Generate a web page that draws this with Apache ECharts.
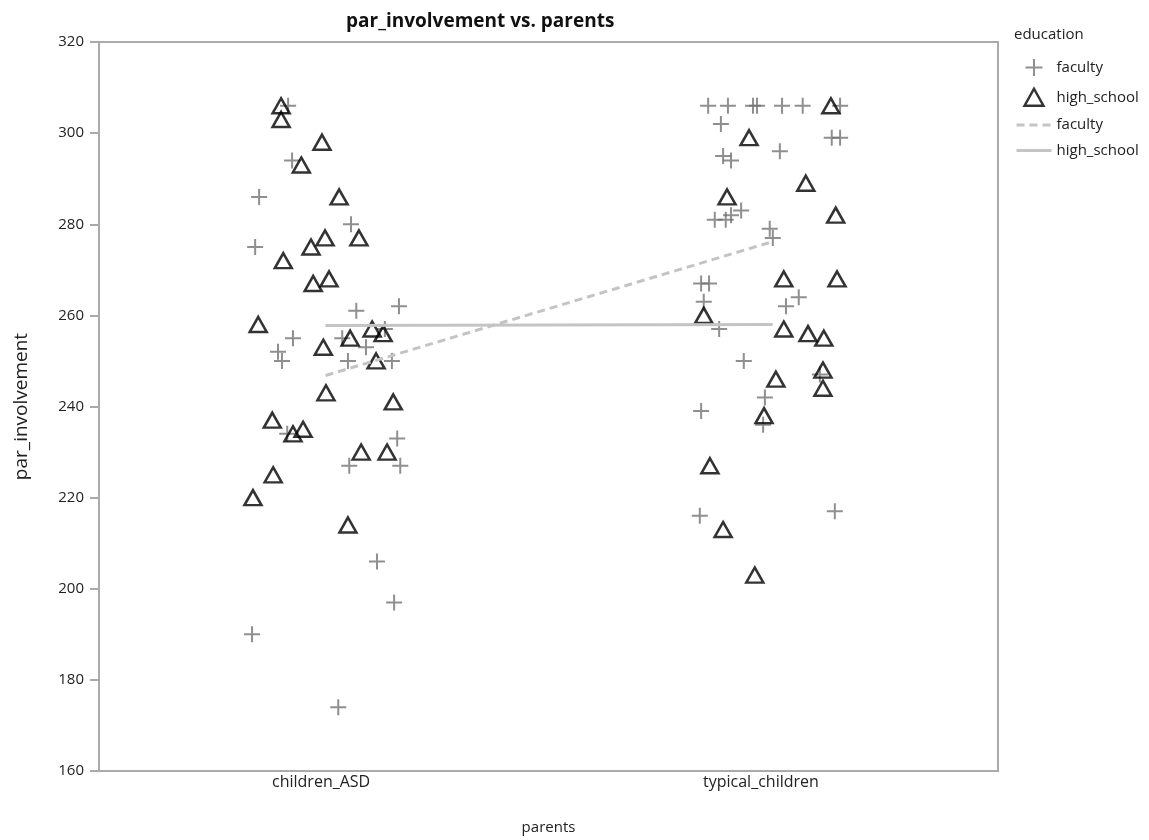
<!DOCTYPE html>
<html>
<head>
<meta charset="utf-8">
<script src="https://cdn.jsdelivr.net/npm/echarts@6/dist/echarts.min.js"></script>
<style>html,body{margin:0;padding:0;background:#fff;}#c{width:1149px;height:840px;}</style>
</head>
<body>
<div id="c"></div>
<script>
// categories on x (position 0 and 1 on a value axis, points jittered)
const categories = ['children_ASD', 'typical_children'];
const yTicks = [160, 180, 200, 220, 240, 260, 280, 300, 320];

// [jittered x position, par_involvement]
const asdFaculty = [
  [-0.075,306],[-0.066,294],[-0.141,286],[0.068,280],[-0.150,275],[0.080,261],[0.177,262],
  [-0.064,255],[-0.098,252],[-0.089,250],[0.048,255],[0.145,257],[0.102,253],[0.061,250],
  [0.161,250],[-0.077,234],[0.173,233],[0.064,227],[0.180,227],[0.127,206],[0.166,197],
  [-0.157,190],[0.039,174]
];
const asdHighSchool = [
  [-0.091,306],[-0.091,303],[0.002,298],[-0.045,293],[0.041,286],[0.086,277],[0.009,277],
  [-0.023,275],[-0.086,272],[-0.018,267],[0.018,268],[-0.143,258],[0.005,253],[0.066,255],
  [0.116,257],[0.141,256],[0.125,250],[0.011,243],[0.164,241],[-0.111,237],[-0.064,234],
  [-0.041,235],[0.091,230],[0.150,230],[-0.109,225],[-0.155,220],[0.061,214]
];
const typFaculty = [
  [0.880,306],[0.925,306],[0.982,306],[0.991,306],[1.048,306],[1.095,306],[1.180,306],
  [0.909,302],[1.161,299],[1.180,299],[1.043,296],[0.914,295],[0.932,294],[0.895,281],
  [0.920,281],[0.932,282],[0.955,283],[1.020,279],[1.027,277],[0.864,267],[0.882,267],
  [0.870,263],[0.905,257],[1.086,264],[1.057,262],[1.134,247],[0.961,250],[1.009,242],
  [1.005,236],[0.864,239],[0.861,216],[1.168,217]
];
const typHighSchool = [
  [1.159,306],[0.973,299],[1.102,289],[0.923,286],[1.170,282],[0.870,260],[1.052,268],
  [1.173,268],[1.052,257],[1.107,256],[1.143,255],[1.141,248],[1.141,244],[1.034,246],
  [1.007,238],[0.884,227],[0.914,213],[0.986,203]
];
// fitted lines
const facultyLine = [[0.01,246.8],[1.027,276.2]];
const highSchoolLine = [[0.01,257.8],[1.027,258.0]];

const FONT = 'Open Sans';
const plusPath = 'path://M5,0 L5,10 M0,5 L10,5';
const triPath = 'path://M5,0 L10,9 L0,9 Z';

const chart = echarts.init(document.getElementById('c'));
chart.setOption({
  animation: false,
  textStyle: {fontFamily: FONT},
  title: [
    {text: 'par_involvement vs. parents', left: 341, top: 7,
     textStyle: {fontFamily: FONT, fontSize: 19, fontWeight: 'bold', color: '#111'}},
    {text: 'education', left: 1009, top: 22,
     textStyle: {fontFamily: FONT, fontSize: 15, fontWeight: 'normal', color: '#222'}}
  ],
  legend: {
    orient: 'vertical', left: 1010, top: 53, itemGap: 10.5, itemWidth: 35, itemHeight: 17,
    textStyle: {fontFamily: FONT, fontSize: 15, color: '#222'},
    data: [
      {name: 'faculty', icon: plusPath, itemStyle: {borderWidth: 2}},
      {name: 'high_school', icon: triPath, itemStyle: {borderWidth: 2.5}},
      {name: 'faculty ', itemStyle: {opacity: 0}, lineStyle: {width: 3}},
      {name: 'high_school ', itemStyle: {opacity: 0}, lineStyle: {width: 3}}
    ],
    formatter: n => n.trim()
  },
  grid: {left: 99, right: 151, top: 42, bottom: 67, show: true, borderColor: '#aaaaaa', borderWidth: 2},
  xAxis: {
    type: 'value', min: -0.505, max: 1.539,
    name: 'parents', nameLocation: 'middle', nameGap: 49,
    nameTextStyle: {fontFamily: FONT, fontSize: 15, color: '#222'},
    splitLine: {show: false},
    axisLine: {lineStyle: {color: '#aaaaaa', width: 2}},
    axisTick: {show: false},
    axisLabel: {customValues: [0, 1], formatter: v => categories[Math.round(v)],
      fontFamily: FONT, fontSize: 16, color: '#222', margin: 3}
  },
  yAxis: {
    type: 'value', min: yTicks[0], max: yTicks[yTicks.length - 1], interval: 20,
    name: 'par_involvement', nameLocation: 'middle', nameGap: 68,
    nameTextStyle: {fontFamily: FONT, fontSize: 19, color: '#222'},
    splitLine: {show: false},
    axisLine: {show: true, onZero: false, lineStyle: {color: '#aaaaaa', width: 2}},
    axisTick: {show: true, length: 9, lineStyle: {color: '#aaaaaa', width: 2}},
    axisLabel: {fontFamily: FONT, fontSize: 15, color: '#222', margin: 15}
  },
  series: [
    {name: 'faculty', type: 'scatter', symbol: plusPath, symbolSize: 16,
     itemStyle: {color: 'rgba(0,0,0,0)', borderColor: '#737373', borderWidth: 2},
     data: asdFaculty.concat(typFaculty), z: 2},
    {name: 'high_school', type: 'scatter', symbol: 'triangle', symbolSize: [17, 15],
     itemStyle: {color: 'rgba(0,0,0,0)', borderColor: '#000', borderWidth: 2.5},
     data: asdHighSchool.concat(typHighSchool), z: 3},
    {name: 'faculty ', type: 'line', showSymbol: false, symbol: 'none',
     lineStyle: {color: '#c4c4c4', width: 3, type: [8, 5]}, itemStyle: {color: '#c4c4c4'},
     data: facultyLine, z: 4},
    {name: 'high_school ', type: 'line', showSymbol: false, symbol: 'none',
     lineStyle: {color: '#c4c4c4', width: 3}, itemStyle: {color: '#c4c4c4'},
     data: highSchoolLine, z: 4}
  ]
});
</script>
</body>
</html>
